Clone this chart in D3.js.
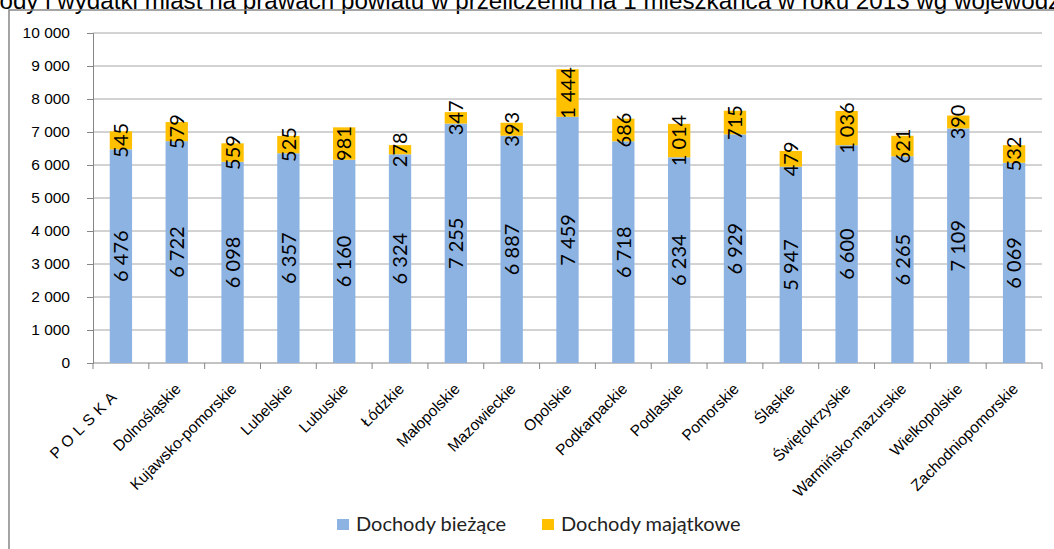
<!DOCTYPE html>
<html>
<head>
<meta charset="utf-8">
<script src="https://cdn.jsdelivr.net/npm/d3@7"></script>
<style>
  body { margin: 0; background: #fff; }
  svg { display: block; }
</style>
</head>
<body>
<script>
const categories = ['P O L S K A', 'Dolnośląskie', 'Kujawsko-pomorskie', 'Lubelskie', 'Lubuskie', 'Łódzkie',
  'Małopolskie', 'Mazowieckie', 'Opolskie', 'Podkarpackie', 'Podlaskie', 'Pomorskie', 'Śląskie',
  'Świętokrzyskie', 'Warmińsko-mazurskie', 'Wielkopolskie', 'Zachodniopomorskie'];
const biezace = [6476, 6722, 6098, 6357, 6160, 6324, 7255, 6887, 7459, 6718, 6234, 6929, 5947, 6600, 6265, 7109, 6069];
const majatkowe = [545, 579, 559, 525, 981, 278, 347, 393, 1444, 686, 1014, 715, 479, 1036, 621, 390, 532];
const seriesNames = ['Dochody bieżące', 'Dochody majątkowe'];
const yTicks = [0, 1000, 2000, 3000, 4000, 5000, 6000, 7000, 8000, 9000, 10000];
const title = 'Dochody i wydatki miast na prawach powiatu w przeliczeniu na 1 mieszkańca w roku 2013 wg województw';

const W = 1054, H = 549;
const margin = {top: 33, right: 12, bottom: 186, left: 93};
const width = W - margin.left - margin.right,
  height = H - margin.top - margin.bottom;

const colors = ['#8DB3E2', '#FFC000'];
const pl = d3.formatLocale({decimal: ',', thousands: '\u00a0', grouping: [3], currency: ['', '']});
const fmt = pl.format(',d');
const axisFont = '"Liberation Sans", Arial, sans-serif';
const labelFont = 'Lato, "Open Sans", sans-serif';

const svg = d3.select('body').append('svg')
  .attr('width', W)
  .attr('height', H);

// title, cut at the top as in the source image
svg.append('text')
  .attr('x', -57)
  .attr('y', 9)
  .style('font-family', axisFont)
  .style('font-size', '24.2px')
  .attr('fill', '#000')
  .text(title);

// outer frame
svg.append('path')
  .attr('d', 'M9,' + H + 'V10H' + W)
  .attr('fill', 'none')
  .attr('stroke', '#868686')
  .attr('stroke-width', 1.5);

const g = svg.append('g')
  .attr('transform', 'translate(' + margin.left + ',' + margin.top + ')');

const x = d3.scaleBand()
  .domain(categories)
  .range([0, width])
  .paddingInner(0.6)
  .paddingOuter(0.3);

const y = d3.scaleLinear()
  .domain([0, 10000])
  .range([height, 0]);

// gridlines
g.append('g')
  .selectAll('line')
  .data(yTicks.slice(1))
  .enter()
  .append('line')
  .attr('x1', 0)
  .attr('x2', width)
  .attr('y1', d => y(d))
  .attr('y2', d => y(d))
  .attr('stroke', '#a6a6a6')
  .attr('stroke-width', 1);

// y axis
const yAxis = g.append('g')
  .call(d3.axisLeft(y).tickValues(yTicks).tickFormat(fmt).tickSize(6).tickPadding(17));
yAxis.selectAll('line, path').attr('stroke', '#868686');
yAxis.selectAll('text')
  .style('font-family', axisFont)
  .style('font-size', '15.5px')
  .attr('fill', '#000');

// x axis with ticks between categories
const edges = d3.range(categories.length + 1).map(i => i * width / categories.length);
const xAxis = g.append('g')
  .attr('transform', 'translate(0,' + height + ')');
xAxis.append('line')
  .attr('x1', 0).attr('x2', width)
  .attr('stroke', '#868686');
xAxis.selectAll('line.tick')
  .data(edges)
  .enter()
  .append('line')
  .attr('class', 'tick')
  .attr('x1', d => d).attr('x2', d => d)
  .attr('y1', 0).attr('y2', 6)
  .attr('stroke', '#868686');

xAxis.selectAll('text')
  .data(categories)
  .enter()
  .append('text')
  .attr('transform', (d, i) => 'translate(' + (x(d) + x.bandwidth() / 2 + (i === 0 ? -3 : 5)) + ',' +
    (i === 0 ? 35 : 27) + ') rotate(-45)')
  .attr('text-anchor', 'end')
  .style('font-family', axisFont)
  .style('font-size', '15.5px')
  .style('letter-spacing', (d, i) => i === 0 ? '0.5px' : null)
  .attr('fill', '#000')
  .text(d => d);

// stacked bars
const rows = categories.map((c, i) => ({cat: c, biezace: biezace[i], majatkowe: majatkowe[i]}));
const stack = d3.stack().keys(['biezace', 'majatkowe'])(rows);

const layers = g.selectAll('g.layer')
  .data(stack)
  .enter()
  .append('g')
  .attr('class', 'layer')
  .attr('fill', (d, i) => colors[i]);

layers.selectAll('rect')
  .data(d => d)
  .enter()
  .append('rect')
  .attr('x', d => x(d.data.cat))
  .attr('width', x.bandwidth())
  .attr('y', d => y(d[1]))
  .attr('height', d => y(d[0]) - y(d[1]));

// value labels, rotated and centred in each segment
layers.selectAll('text')
  .data(d => d.map(v => ({v: v, val: v[1] - v[0]})))
  .enter()
  .append('text')
  .attr('transform', d => 'translate(' + (x(d.v.data.cat) + x.bandwidth() / 2) + ',' +
    ((y(d.v[0]) + y(d.v[1])) / 2) + ') rotate(-90)')
  .attr('text-anchor', 'middle')
  .attr('dy', '0.36em')
  .style('font-family', labelFont)
  .style('font-size', '20px')
  .attr('fill', '#000')
  .text(d => fmt(d.val));

// legend
const legend = svg.append('g')
  .attr('transform', 'translate(337,519)');
const legendX = [0, 205];
const items = legend.selectAll('g')
  .data(seriesNames)
  .enter()
  .append('g')
  .attr('transform', (d, i) => 'translate(' + legendX[i] + ',0)');
items.append('rect')
  .attr('width', 12)
  .attr('height', 11)
  .attr('fill', (d, i) => colors[i]);
items.append('text')
  .attr('x', 19)
  .attr('y', 12)
  .style('font-family', labelFont)
  .style('font-size', '20px')
  .attr('fill', '#222')
  .text(d => d);
</script>
</body>
</html>
